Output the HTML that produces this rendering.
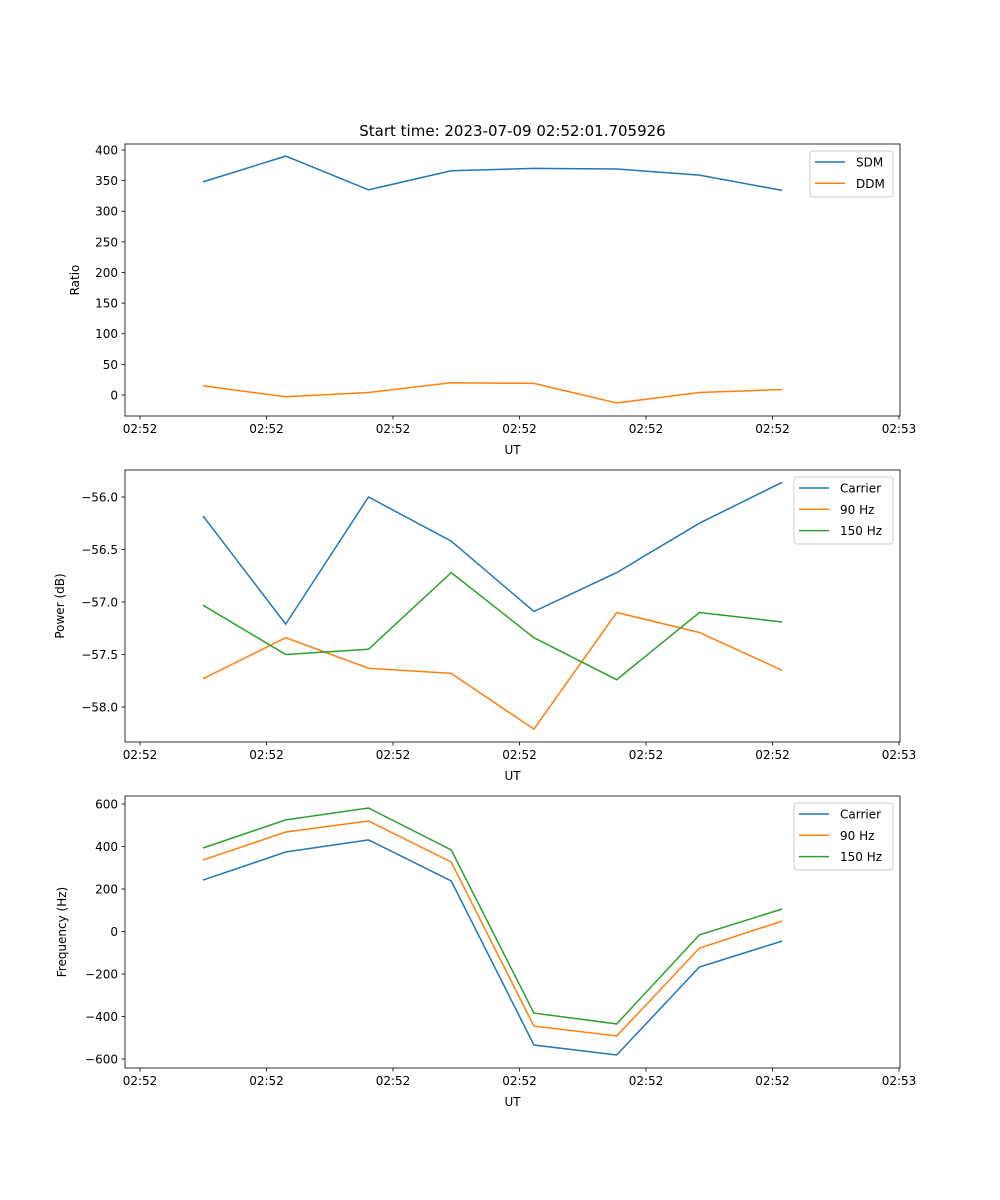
<!DOCTYPE html>
<html><head><meta charset="utf-8"><style>
body{margin:0;background:#fff}
svg{display:block;font-family:"DejaVu Sans","Liberation Sans",sans-serif}
</style></head><body>
<svg id="fig" width="1000" height="1200" viewBox="0 0 1000 1200" xmlns="http://www.w3.org/2000/svg">
<rect width="1000" height="1200" fill="#fff"/>
<text x="512.5" y="136" font-size="15" text-anchor="middle">Start time: 2023-07-09 02:52:01.705926</text>
</svg>
<script>
// x positions of samples, in tick units (tick 0..6)
const times = [0.498, 1.152, 1.806, 2.46, 3.114, 3.768, 4.422, 5.076];
const xTickLabels = ["02:52","02:52","02:52","02:52","02:52","02:52","02:53"];
const sdm = [348, 390, 335, 366, 370, 369, 359, 334];
const ddm = [15, -3, 4, 20, 19, -13, 4, 9];
const ratioTicks = [0, 50, 100, 150, 200, 250, 300, 350, 400];
const pCarrier = [-56.18, -57.21, -56.0, -56.42, -57.09, -56.72, -56.25, -55.86];
const p90 = [-57.73, -57.34, -57.63, -57.68, -58.21, -57.10, -57.29, -57.65];
const p150 = [-57.03, -57.50, -57.45, -56.72, -57.34, -57.74, -57.10, -57.19];
const powerTicks = [-58.0, -57.5, -57.0, -56.5, -56.0];
const fCarrier = [242, 374, 431, 238, -534, -581, -167, -45];
const f90 = [336, 468, 520, 327, -445, -492, -78, 49];
const f150 = [393, 525, 581, 384, -384, -435, -16, 106];
const freqTicks = [-600, -400, -200, 0, 200, 400, 600];

const NS = "http://www.w3.org/2000/svg";
const svg = document.getElementById('fig');
const C = ['#1f77b4', '#ff7f0e', '#2ca02c'];
function mk(tag, attrs, parent) {
  const e = document.createElementNS(NS, tag);
  for (const k in attrs) e.setAttribute(k, attrs[k]);
  (parent || svg).appendChild(e);
  return e;
}
const L = 125, R = 900;
const xs = v => 140 + v * 126.5;

function panel(key, top, bottom, ymin, ymax, yticks, fmt, ylabel, yx, series, names, legX, legW) {
  const g = mk('g', {});
  
  
  const ys = v => bottom - (v - ymin) / (ymax - ymin) * (bottom - top);
  xTickLabels.forEach((lab, i) => {
    const x = xs(i);
    mk('line', {x1: x, x2: x, y1: bottom, y2: bottom + 3.5, stroke: '#000', 'stroke-width': 0.8}, g);
    const t = mk('text', {x: x, y: bottom + 17, 'font-size': 12, 'text-anchor': 'middle'}, g);
    
    
    t.textContent = lab;
  });
  const xl = mk('text', {x: 512.5, y: bottom + 38, 'font-size': 12, 'text-anchor': 'middle'}, g);
  
  
  xl.textContent = 'UT';
  yticks.forEach(v => {
    const y = ys(v);
    mk('line', {x1: L - 3.5, x2: L, y1: y, y2: y, stroke: '#000', 'stroke-width': 0.8}, g);
    const t = mk('text', {x: L - 7, y: y + 4.5, 'font-size': 12, 'text-anchor': 'end'}, g);
    
    
    t.textContent = fmt(v);
  });
  const cy = (top + bottom) / 2;
  const yl = mk('text', {x: yx, y: cy, 'font-size': 12, 'text-anchor': 'middle', transform: `rotate(-90 ${yx} ${cy})`}, g);
  
  
  yl.textContent = ylabel;
  series.forEach((s, si) => {
    const p = mk('polyline', {points: s.map((v, i) => xs(times[i]).toFixed(1) + ',' + ys(v).toFixed(1)).join(' '), fill: 'none', stroke: C[si], 'stroke-width': 1.5}, g);
    
    
  });
  const fr = mk('rect', {x: L, y: top, width: R - L, height: bottom - top, fill: 'none', stroke: '#000', 'stroke-width': 0.8}, g);
  
  
  const lg = mk('g', {}, g);
  
  
  const lh = 4 + names.length * 21;
  mk('rect', {x: legX, y: top + 7, width: legW, height: lh, rx: 3, fill: '#fff', 'fill-opacity': 0.8, stroke: '#ccc', 'stroke-width': 1}, lg);
  names.forEach((n, i) => {
    const y = top + 18 + i * 21.3;
    const e = mk('g', {}, lg);
    
    
    mk('line', {x1: legX + 5, x2: legX + 35, y1: y, y2: y, stroke: C[i], 'stroke-width': 1.5}, e);
    const t = mk('text', {x: legX + 46, y: y + 4.5, 'font-size': 12}, e);
    t.textContent = n;
  });
}
panel('ratio', 144, 416, -34.3, 409.8, ratioTicks, v => String(v), 'Ratio', 79, [sdm, ddm], ['SDM', 'DDM'], 810, 83);
panel('power', 470, 742, -58.333, -55.743, powerTicks, v => (v < 0 ? '\u2212' : '') + Math.abs(v).toFixed(1), 'Power (dB)', 64, [pCarrier, p90, p150], ['Carrier', '90 Hz', '150 Hz'], 794, 99);
panel('frequency', 796, 1068, -642.4, 637.6, freqTicks, v => (v < 0 ? '\u2212' : '') + Math.abs(v), 'Frequency (Hz)', 66, [fCarrier, f90, f150], ['Carrier', '90 Hz', '150 Hz'], 794, 99);
</script>
</body></html>
